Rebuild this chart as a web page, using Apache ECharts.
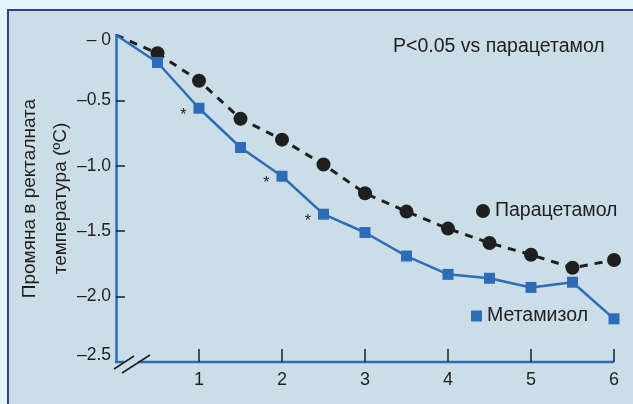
<!DOCTYPE html>
<html>
<head>
<meta charset="utf-8">
<script src="https://cdn.jsdelivr.net/npm/echarts@6/dist/echarts.min.js"></script>
<style>
html, body { margin: 0; padding: 0; background: #e3f4fc; }
#panel { position: absolute; left: 7px; top: 9px; width: 626px; height: 395px; background: #cbdee8;
  border-left: 2px solid #2c4197; border-top: 2px solid #2c4197; box-sizing: border-box; }
#chart { position: absolute; left: 0; top: 0; width: 633px; height: 404px; }
</style>
</head>
<body>
<div id="panel"></div>
<div id="chart"></div>
<script>
// hours after dosing, change of rectal temperature (°C)
const hours = [0, 0.5, 1, 1.5, 2, 2.5, 3, 3.5, 4, 4.5, 5, 5.5, 6];
const paracetamol = [0, -0.14, -0.35, -0.64, -0.80, -0.99, -1.21, -1.35, -1.48, -1.59, -1.68, -1.78, -1.72];
const metamizol = [0, -0.21, -0.56, -0.86, -1.08, -1.37, -1.51, -1.69, -1.83, -1.86, -1.93, -1.89, -2.17];
const significantHours = [1, 2, 2.5];
const xTicks = [1, 2, 3, 4, 5, 6];
const yTicks = [0, -0.5, -1, -1.5, -2, -2.5];
const yTickLabels = ['– 0', '–0.5', '–1.0', '–1.5', '–2.0', '–2.5'];

const FONT = '"Liberation Sans", Arial, sans-serif';
const BLUE = '#2f6cb8';
const INK = '#1f1f1f';

const toData = (values) => hours.map((h, i) =>
    i === 0 ? {value: [h, values[i]], symbol: 'none'} : [h, values[i]]);

const chart = echarts.init(document.getElementById('chart'));

chart.setOption({
    animation: false,
    textStyle: {fontFamily: FONT},
    grid: {left: 116, right: 19, top: 35, bottom: 42, outerBoundsMode: 'none'},
    title: {
        text: 'P<0.05 vs парацетамол',
        left: 393, top: 37, padding: 0,
        textStyle: {fontFamily: FONT, fontSize: 19.5, fontWeight: 'normal', color: INK}
    },
    legend: [
        {
            data: [{name: 'Парацетамол', icon: 'circle'}],
            left: 476, top: 201, padding: 0,
            itemWidth: 14, itemHeight: 14,
            textStyle: {fontFamily: FONT, fontSize: 19.5, color: INK}
        },
        {
            data: [{name: 'Метамизол', icon: 'rect'}],
            left: 471, top: 306, padding: 0,
            itemWidth: 11, itemHeight: 11,
            textStyle: {fontFamily: FONT, fontSize: 19.5, color: INK}
        }
    ],
    xAxis: {
        type: 'value', min: 0, max: 6, interval: 1,
        splitLine: {show: false},
        axisLine: {show: false, onZero: false},
        axisTick: {show: true, inside: true, length: 13, customValues: xTicks,
            lineStyle: {color: INK, width: 1.5}},
        axisLabel: {customValues: xTicks, margin: 9, fontSize: 18, color: INK}
    },
    yAxis: {
        type: 'value', min: -2.5, max: 0, interval: 0.5,
        name: 'Промяна в ректалната\nтемпература (ºC)',
        nameLocation: 'middle', nameGap: 40, nameMoveOverlap: false,
        nameTextStyle: {fontFamily: FONT, fontSize: 19, color: INK, lineHeight: 31},
        splitLine: {show: false},
        axisLine: {show: true, onZero: false, lineStyle: {color: BLUE, width: 2.5}},
        axisTick: {show: true, inside: true, length: 9, customValues: yTicks.slice(1, 5),
            lineStyle: {color: INK, width: 1.5}},
        axisLabel: {
            customValues: yTicks, margin: 5, fontSize: 17.5, color: INK,
            formatter: (v) => {
                const i = yTicks.findIndex(t => Math.abs(t - v) < 1e-6);
                const text = yTickLabels[i];
                if (i === 0) return '{top|' + text + '}';
                if (i === yTicks.length - 1) return '{bottom|' + text + '}';
                return text;
            },
            rich: {
                top: {fontFamily: FONT, fontSize: 17.5, color: INK, padding: [10, 0, 0, 0]},
                bottom: {fontFamily: FONT, fontSize: 17.5, color: INK, padding: [0, 0, 14, 0]}
            }
        }
    },
    series: [
        {
            name: 'Парацетамол', type: 'line',
            data: toData(paracetamol),
            symbol: 'circle', symbolSize: 14,
            itemStyle: {color: INK},
            lineStyle: {color: INK, width: 3, type: [8, 7]}
        },
        {
            name: 'Метамизол', type: 'line',
            data: toData(metamizol),
            symbol: 'rect', symbolSize: 11,
            itemStyle: {color: BLUE},
            lineStyle: {color: BLUE, width: 2.5},
            label: {
                show: true, position: 'left', distance: 6, offset: [-1, 7],
                fontSize: 16, color: INK,
                formatter: (p) => significantHours.includes(p.value[0]) ? '*' : ''
            }
        }
    ]
});

// x axis line with the broken-axis marks near the origin
const o = chart.convertToPixel({gridIndex: 0}, [0, -2.5]);
const end = chart.convertToPixel({gridIndex: 0}, [6, -2.5]);
const axisStyle = {stroke: BLUE, lineWidth: 2.5};
const breakStyle = {stroke: INK, lineWidth: 1.5};
chart.setOption({
    graphic: [
        {type: 'line', shape: {x1: o[0] - 1, y1: o[1], x2: o[0] + 8, y2: o[1]}, style: axisStyle},
        {type: 'line', shape: {x1: o[0] + 22, y1: o[1], x2: end[0], y2: end[1]}, style: axisStyle},
        {type: 'line', shape: {x1: o[0] - 2, y1: o[1] + 7, x2: o[0] + 18, y2: o[1] - 6}, style: breakStyle},
        {type: 'line', shape: {x1: o[0] + 6, y1: o[1] + 11, x2: o[0] + 34, y2: o[1] - 7}, style: breakStyle}
    ]
});
</script>
</body>
</html>
